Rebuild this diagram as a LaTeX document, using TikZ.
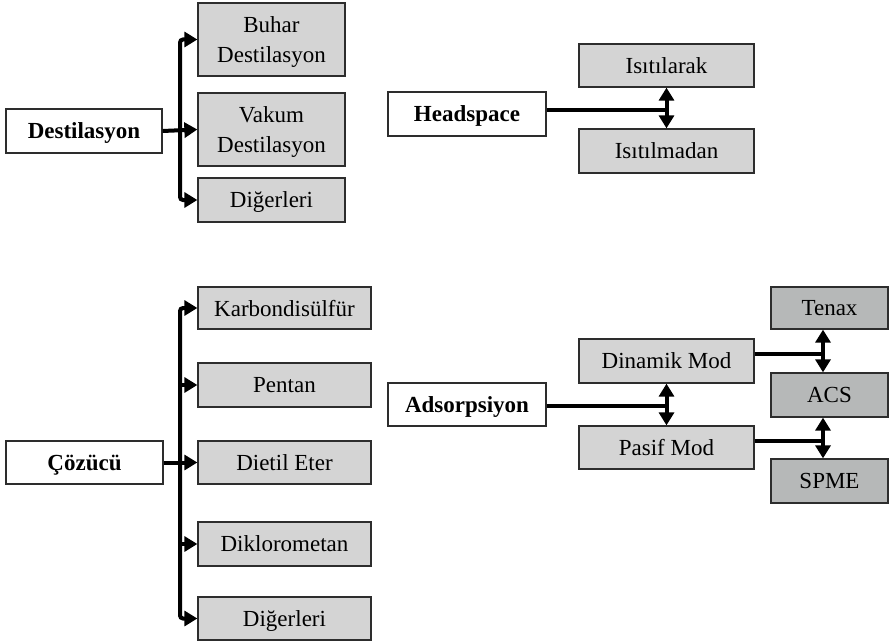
\documentclass[tikz,border=0pt]{standalone}
\usepackage{fontspec}
\setmainfont{Liberation Serif}
\usetikzlibrary{arrows.meta,calc}
\definecolor{boxA}{RGB}{212,212,212}
\definecolor{boxB}{RGB}{182,184,184}
\definecolor{edge}{RGB}{45,45,45}
\tikzset{
  base/.style={draw=edge, line width=1.3pt, rectangle, inner sep=0pt, align=center,
    text depth=0pt, font=\fontsize{23}{30}\selectfont},
  mainbox/.style={base, fill=white, font=\fontsize{23}{30}\selectfont\bfseries},
  subbox/.style={base, fill=boxA},
  twoline/.style={text depth=-7pt},
  leafbox/.style={base, fill=boxB},
  conn/.style={line width=4pt, black, line cap=butt},
  arr/.style={conn, -{Triangle[length=13pt,width=15pt]}},
  darr/.style={conn, {Triangle[length=13pt,width=15pt]}-{Triangle[length=13pt,width=15pt]}},
}
\begin{document}
\begin{tikzpicture}[x=1pt,y=-1pt]
\useasboundingbox (0,0) rectangle (889,642);
% Destilasyon group
\node[mainbox, minimum width=156pt, minimum height=44pt] (dest) at (84,131) {Destilasyon};
\node[subbox, twoline, minimum width=147pt, minimum height=73pt] (buhar) at (271.5,39.5) {Buhar\\Destilasyon};
\node[subbox, twoline, minimum width=147pt, minimum height=73pt] (vakum) at (271.5,129.5) {Vakum\\Destilasyon};
\node[subbox, minimum width=147pt, minimum height=44pt] (dig1) at (271.5,200) {Diğerleri};
\coordinate (busA) at (180,131);
\draw[arr] (dest.east) -- (vakum.west);
\draw[arr, rounded corners=3pt] (busA) |- (buhar.west);
\draw[arr, rounded corners=3pt] (busA) |- (dig1.west);
% Headspace group
\node[mainbox, minimum width=158pt, minimum height=44pt] (head) at (467,114) {Headspace};
\node[subbox, minimum width=175pt, minimum height=43pt] (isa) at (666.5,65.5) {Isıtılarak};
\node[subbox, minimum width=175pt, minimum height=44pt] (isb) at (666.5,151) {Isıtılmadan};
\coordinate (jH) at (666.5,110);
\draw[conn] ($(head.east)+(0,-4)$) -- (jH);
\draw[darr] (isa.south) -- (isb.north);
% Cozucu group
\node[mainbox, minimum width=157pt, minimum height=43pt] (coz) at (84.5,462.5) {Çözücü};
\node[subbox, minimum width=173pt, minimum height=42pt] (karb) at (284.5,308) {Karbondisülfür};
\node[subbox, minimum width=173pt, minimum height=44pt] (pent) at (284.5,385) {Pentan};
\node[subbox, minimum width=173pt, minimum height=43pt] (diet) at (284.5,462.5) {Dietil Eter};
\node[subbox, minimum width=173pt, minimum height=44pt] (dikl) at (284.5,544) {Diklorometan};
\node[subbox, minimum width=173pt, minimum height=43pt] (dig2) at (284.5,618.5) {Diğerleri};
\coordinate (busC) at (180,462.5);
\draw[arr] (coz.east) -- (diet.west);
\draw[arr, rounded corners=3pt] (busC) |- (karb.west);
\draw[arr] (busC |- pent.west) -- (pent.west);
\draw[arr] (busC |- dikl.west) -- (dikl.west);
\draw[arr, rounded corners=3pt] (busC) |- (dig2.west);
% Adsorpsiyon group
\node[mainbox, minimum width=158pt, minimum height=43pt] (ads) at (467,404.5) {Adsorpsiyon};
\node[subbox, minimum width=175pt, minimum height=44pt] (din) at (666.5,361) {Dinamik Mod};
\node[subbox, minimum width=175pt, minimum height=43pt] (pas) at (666.5,447.5) {Pasif Mod};
\coordinate (jA) at (666.5,406);
\draw[conn] ($(ads.east)+(0,1.5)$) -- (jA);
\draw[darr] (din.south) -- (pas.north);
\node[leafbox, minimum width=117pt, minimum height=42pt] (tenax) at (829.5,308) {Tenax};
\node[leafbox, minimum width=117pt, minimum height=44pt] (acs) at (829.5,395) {ACS};
\node[leafbox, minimum width=117pt, minimum height=44pt] (spme) at (829.5,481) {SPME};
\coordinate (jT) at (823,354);
\coordinate (jS) at (823,441);
\draw[conn] ($(din.east)+(0,-7)$) -- (jT);
\draw[darr] (jT |- tenax.south) -- (jT |- acs.north);
\draw[conn] ($(pas.east)+(0,-6.5)$) -- (jS);
\draw[darr] (jS |- acs.south) -- (jS |- spme.north);
\end{tikzpicture}
\end{document}
